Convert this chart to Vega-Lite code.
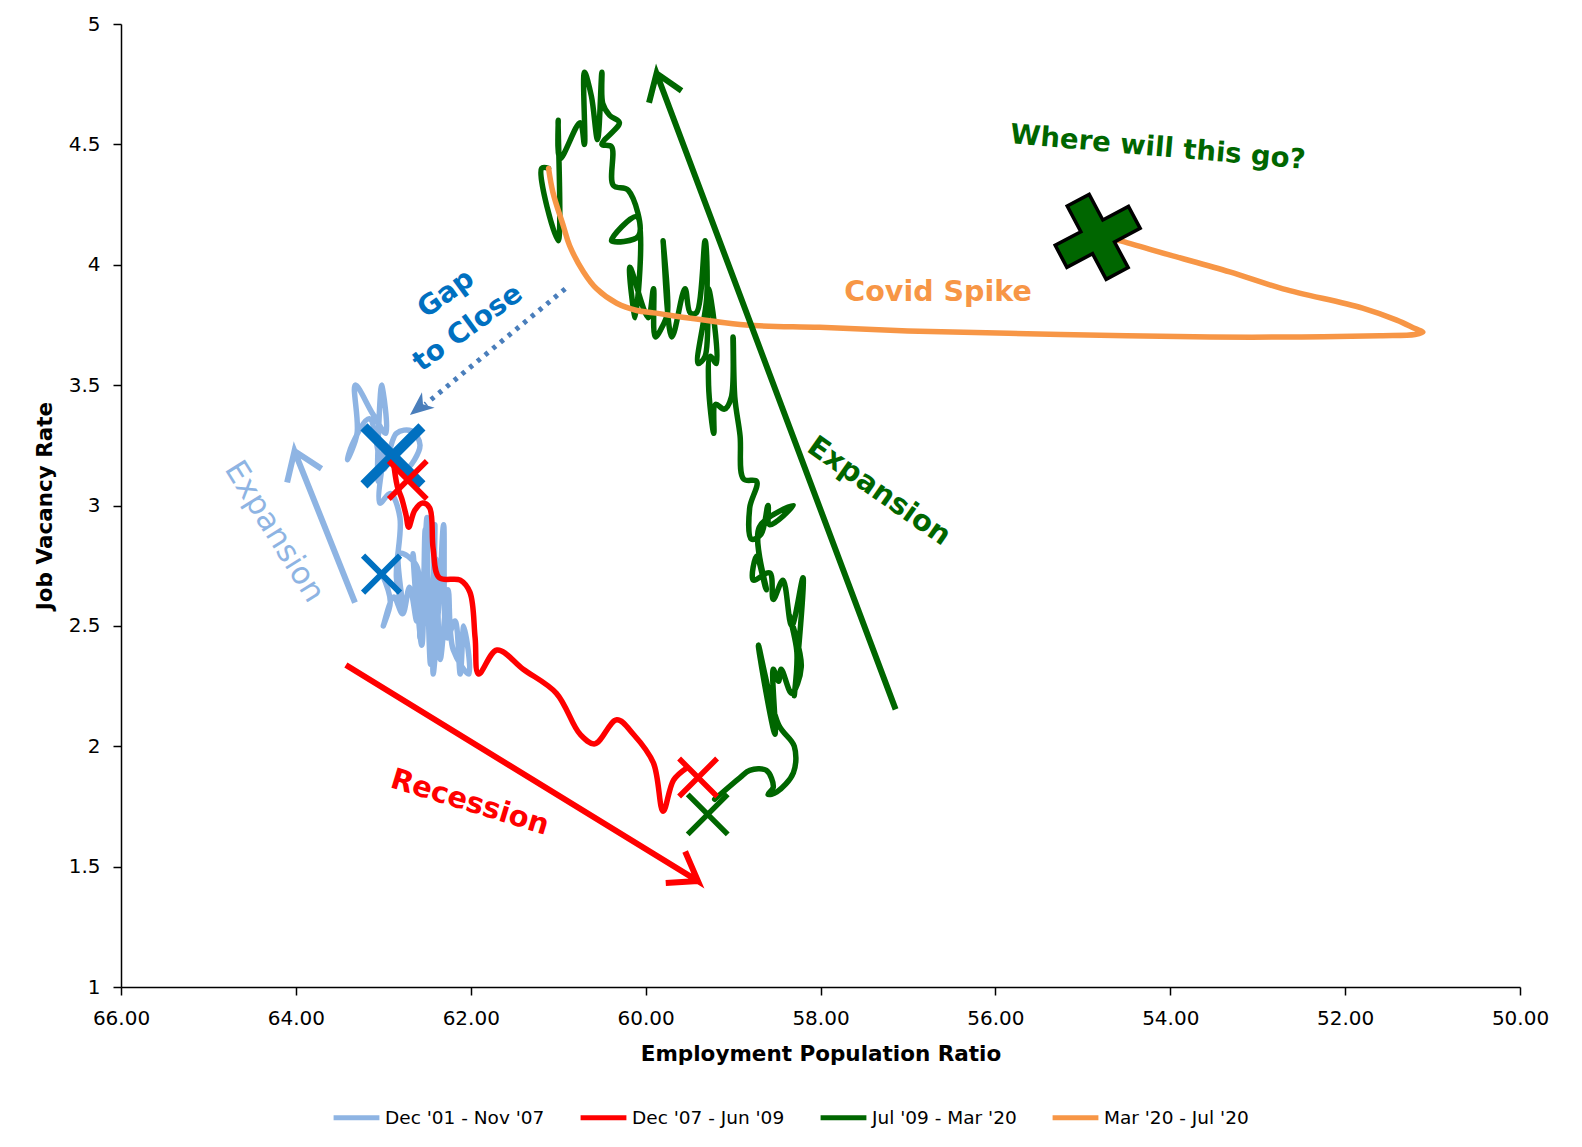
{
  "$schema": "https://vega.github.io/schema/vega-lite/v6.json",
  "width": 1399,
  "height": 963,
  "autosize": {"type": "none"},
  "padding": {"left": 121, "top": 24, "right": 62, "bottom": 160},
  "background": "white",
  "config": {"view": {"stroke": null}},
  "datasets": {
    "series": [
      {"s":"Dec '01 - Nov '07","i":1,"x":63.02,"y":2.72},
      {"s":"Dec '01 - Nov '07","i":2,"x":62.92,"y":2.60},
      {"s":"Dec '01 - Nov '07","i":3,"x":63.00,"y":2.50},
      {"s":"Dec '01 - Nov '07","i":4,"x":62.88,"y":2.62},
      {"s":"Dec '01 - Nov '07","i":5,"x":62.78,"y":2.55},
      {"s":"Dec '01 - Nov '07","i":6,"x":62.70,"y":2.66},
      {"s":"Dec '01 - Nov '07","i":7,"x":62.62,"y":2.52},
      {"s":"Dec '01 - Nov '07","i":8,"x":62.66,"y":2.80},
      {"s":"Dec '01 - Nov '07","i":9,"x":62.56,"y":2.42},
      {"s":"Dec '01 - Nov '07","i":10,"x":62.52,"y":2.90},
      {"s":"Dec '01 - Nov '07","i":11,"x":62.46,"y":2.34},
      {"s":"Dec '01 - Nov '07","i":12,"x":62.41,"y":2.92},
      {"s":"Dec '01 - Nov '07","i":13,"x":62.43,"y":2.30},
      {"s":"Dec '01 - Nov '07","i":14,"x":62.36,"y":2.62},
      {"s":"Dec '01 - Nov '07","i":15,"x":62.31,"y":2.92},
      {"s":"Dec '01 - Nov '07","i":16,"x":62.27,"y":2.45},
      {"s":"Dec '01 - Nov '07","i":17,"x":62.18,"y":2.52},
      {"s":"Dec '01 - Nov '07","i":18,"x":62.12,"y":2.30},
      {"s":"Dec '01 - Nov '07","i":19,"x":62.08,"y":2.50},
      {"s":"Dec '01 - Nov '07","i":20,"x":62.02,"y":2.30},
      {"s":"Dec '01 - Nov '07","i":21,"x":62.20,"y":2.40},
      {"s":"Dec '01 - Nov '07","i":22,"x":62.26,"y":2.65},
      {"s":"Dec '01 - Nov '07","i":23,"x":62.35,"y":2.36},
      {"s":"Dec '01 - Nov '07","i":24,"x":62.40,"y":2.78},
      {"s":"Dec '01 - Nov '07","i":25,"x":62.48,"y":2.50},
      {"s":"Dec '01 - Nov '07","i":26,"x":62.50,"y":2.95},
      {"s":"Dec '01 - Nov '07","i":27,"x":62.58,"y":2.45},
      {"s":"Dec '01 - Nov '07","i":28,"x":62.62,"y":2.75},
      {"s":"Dec '01 - Nov '07","i":29,"x":62.81,"y":2.80},
      {"s":"Dec '01 - Nov '07","i":30,"x":62.78,"y":2.58},
      {"s":"Dec '01 - Nov '07","i":31,"x":62.85,"y":2.70},
      {"s":"Dec '01 - Nov '07","i":32,"x":62.81,"y":2.95},
      {"s":"Dec '01 - Nov '07","i":33,"x":62.92,"y":3.05},
      {"s":"Dec '01 - Nov '07","i":34,"x":63.04,"y":3.01},
      {"s":"Dec '01 - Nov '07","i":35,"x":62.98,"y":3.25},
      {"s":"Dec '01 - Nov '07","i":36,"x":63.06,"y":3.10},
      {"s":"Dec '01 - Nov '07","i":37,"x":63.02,"y":3.50},
      {"s":"Dec '01 - Nov '07","i":38,"x":62.97,"y":3.30},
      {"s":"Dec '01 - Nov '07","i":39,"x":63.12,"y":3.38},
      {"s":"Dec '01 - Nov '07","i":40,"x":63.32,"y":3.50},
      {"s":"Dec '01 - Nov '07","i":41,"x":63.30,"y":3.30},
      {"s":"Dec '01 - Nov '07","i":42,"x":63.41,"y":3.19},
      {"s":"Dec '01 - Nov '07","i":43,"x":63.36,"y":3.25},
      {"s":"Dec '01 - Nov '07","i":44,"x":63.16,"y":3.36},
      {"s":"Dec '01 - Nov '07","i":45,"x":63.00,"y":3.15},
      {"s":"Dec '01 - Nov '07","i":46,"x":62.85,"y":3.30},
      {"s":"Dec '01 - Nov '07","i":47,"x":62.68,"y":3.31},
      {"s":"Dec '01 - Nov '07","i":48,"x":62.58,"y":3.25},
      {"s":"Dec '01 - Nov '07","i":49,"x":62.75,"y":3.15},
      {"s":"Dec '01 - Nov '07","i":50,"x":62.89,"y":3.21},
      {"s":"Dec '07 - Jun '09","i":1,"x":62.89,"y":3.20},
      {"s":"Dec '07 - Jun '09","i":2,"x":62.84,"y":3.08},
      {"s":"Dec '07 - Jun '09","i":3,"x":62.79,"y":3.03},
      {"s":"Dec '07 - Jun '09","i":4,"x":62.74,"y":2.96},
      {"s":"Dec '07 - Jun '09","i":5,"x":62.71,"y":2.91},
      {"s":"Dec '07 - Jun '09","i":6,"x":62.64,"y":2.98},
      {"s":"Dec '07 - Jun '09","i":7,"x":62.55,"y":3.01},
      {"s":"Dec '07 - Jun '09","i":8,"x":62.47,"y":2.99},
      {"s":"Dec '07 - Jun '09","i":9,"x":62.43,"y":2.82},
      {"s":"Dec '07 - Jun '09","i":10,"x":62.36,"y":2.70},
      {"s":"Dec '07 - Jun '09","i":11,"x":62.12,"y":2.69},
      {"s":"Dec '07 - Jun '09","i":12,"x":62.01,"y":2.64},
      {"s":"Dec '07 - Jun '09","i":13,"x":61.95,"y":2.45},
      {"s":"Dec '07 - Jun '09","i":14,"x":61.91,"y":2.30},
      {"s":"Dec '07 - Jun '09","i":15,"x":61.70,"y":2.40},
      {"s":"Dec '07 - Jun '09","i":16,"x":61.40,"y":2.32},
      {"s":"Dec '07 - Jun '09","i":17,"x":61.02,"y":2.22},
      {"s":"Dec '07 - Jun '09","i":18,"x":60.75,"y":2.05},
      {"s":"Dec '07 - Jun '09","i":19,"x":60.58,"y":2.01},
      {"s":"Dec '07 - Jun '09","i":20,"x":60.33,"y":2.11},
      {"s":"Dec '07 - Jun '09","i":21,"x":60.14,"y":2.05},
      {"s":"Dec '07 - Jun '09","i":22,"x":59.91,"y":1.93},
      {"s":"Dec '07 - Jun '09","i":23,"x":59.80,"y":1.73},
      {"s":"Dec '07 - Jun '09","i":24,"x":59.68,"y":1.86},
      {"s":"Dec '07 - Jun '09","i":25,"x":59.53,"y":1.91},
      {"s":"Jul '09 - Mar '20","i":1,"x":59.21,"y":1.78},
      {"s":"Jul '09 - Mar '20","i":2,"x":58.92,"y":1.87},
      {"s":"Jul '09 - Mar '20","i":3,"x":58.81,"y":1.90},
      {"s":"Jul '09 - Mar '20","i":4,"x":58.62,"y":1.90},
      {"s":"Jul '09 - Mar '20","i":5,"x":58.54,"y":1.83},
      {"s":"Jul '09 - Mar '20","i":6,"x":58.60,"y":1.80},
      {"s":"Jul '09 - Mar '20","i":7,"x":58.50,"y":1.81},
      {"s":"Jul '09 - Mar '20","i":8,"x":58.31,"y":1.89},
      {"s":"Jul '09 - Mar '20","i":9,"x":58.30,"y":2.00},
      {"s":"Jul '09 - Mar '20","i":10,"x":58.48,"y":2.09},
      {"s":"Jul '09 - Mar '20","i":11,"x":58.71,"y":2.42},
      {"s":"Jul '09 - Mar '20","i":12,"x":58.52,"y":2.05},
      {"s":"Jul '09 - Mar '20","i":13,"x":58.54,"y":2.32},
      {"s":"Jul '09 - Mar '20","i":14,"x":58.48,"y":2.27},
      {"s":"Jul '09 - Mar '20","i":15,"x":58.45,"y":2.32},
      {"s":"Jul '09 - Mar '20","i":16,"x":58.33,"y":2.22},
      {"s":"Jul '09 - Mar '20","i":17,"x":58.22,"y":2.33},
      {"s":"Jul '09 - Mar '20","i":18,"x":58.36,"y":2.55},
      {"s":"Jul '09 - Mar '20","i":19,"x":58.27,"y":2.39},
      {"s":"Jul '09 - Mar '20","i":20,"x":58.30,"y":2.21},
      {"s":"Jul '09 - Mar '20","i":21,"x":58.20,"y":2.70},
      {"s":"Jul '09 - Mar '20","i":22,"x":58.33,"y":2.50},
      {"s":"Jul '09 - Mar '20","i":23,"x":58.43,"y":2.69},
      {"s":"Jul '09 - Mar '20","i":24,"x":58.54,"y":2.61},
      {"s":"Jul '09 - Mar '20","i":25,"x":58.58,"y":2.72},
      {"s":"Jul '09 - Mar '20","i":26,"x":58.77,"y":2.69},
      {"s":"Jul '09 - Mar '20","i":27,"x":58.73,"y":2.79},
      {"s":"Jul '09 - Mar '20","i":28,"x":58.62,"y":2.65},
      {"s":"Jul '09 - Mar '20","i":29,"x":58.70,"y":2.91},
      {"s":"Jul '09 - Mar '20","i":30,"x":58.31,"y":3.00},
      {"s":"Jul '09 - Mar '20","i":31,"x":58.58,"y":2.92},
      {"s":"Jul '09 - Mar '20","i":32,"x":58.60,"y":3.00},
      {"s":"Jul '09 - Mar '20","i":33,"x":58.68,"y":2.88},
      {"s":"Jul '09 - Mar '20","i":34,"x":58.79,"y":2.86},
      {"s":"Jul '09 - Mar '20","i":35,"x":58.81,"y":2.99},
      {"s":"Jul '09 - Mar '20","i":36,"x":58.73,"y":3.10},
      {"s":"Jul '09 - Mar '20","i":37,"x":58.88,"y":3.11},
      {"s":"Jul '09 - Mar '20","i":38,"x":58.92,"y":3.29},
      {"s":"Jul '09 - Mar '20","i":39,"x":58.98,"y":3.45},
      {"s":"Jul '09 - Mar '20","i":40,"x":59.00,"y":3.70},
      {"s":"Jul '09 - Mar '20","i":41,"x":59.02,"y":3.45},
      {"s":"Jul '09 - Mar '20","i":42,"x":59.10,"y":3.40},
      {"s":"Jul '09 - Mar '20","i":43,"x":59.20,"y":3.42},
      {"s":"Jul '09 - Mar '20","i":44,"x":59.22,"y":3.30},
      {"s":"Jul '09 - Mar '20","i":45,"x":59.28,"y":3.50},
      {"s":"Jul '09 - Mar '20","i":46,"x":59.26,"y":3.62},
      {"s":"Jul '09 - Mar '20","i":47,"x":59.19,"y":3.59},
      {"s":"Jul '09 - Mar '20","i":48,"x":59.28,"y":3.90},
      {"s":"Jul '09 - Mar '20","i":49,"x":59.32,"y":3.62},
      {"s":"Jul '09 - Mar '20","i":50,"x":59.40,"y":3.59},
      {"s":"Jul '09 - Mar '20","i":51,"x":59.30,"y":3.87},
      {"s":"Jul '09 - Mar '20","i":52,"x":59.32,"y":4.10},
      {"s":"Jul '09 - Mar '20","i":53,"x":59.42,"y":3.80},
      {"s":"Jul '09 - Mar '20","i":54,"x":59.49,"y":3.80},
      {"s":"Jul '09 - Mar '20","i":55,"x":59.55,"y":3.90},
      {"s":"Jul '09 - Mar '20","i":56,"x":59.70,"y":3.70},
      {"s":"Jul '09 - Mar '20","i":57,"x":59.80,"y":4.10},
      {"s":"Jul '09 - Mar '20","i":58,"x":59.75,"y":3.80},
      {"s":"Jul '09 - Mar '20","i":59,"x":59.80,"y":3.75},
      {"s":"Jul '09 - Mar '20","i":60,"x":59.89,"y":3.70},
      {"s":"Jul '09 - Mar '20","i":61,"x":59.91,"y":3.90},
      {"s":"Jul '09 - Mar '20","i":62,"x":59.97,"y":3.78},
      {"s":"Jul '09 - Mar '20","i":63,"x":60.18,"y":3.99},
      {"s":"Jul '09 - Mar '20","i":64,"x":60.12,"y":3.78},
      {"s":"Jul '09 - Mar '20","i":65,"x":60.10,"y":4.20},
      {"s":"Jul '09 - Mar '20","i":66,"x":60.39,"y":4.10},
      {"s":"Jul '09 - Mar '20","i":67,"x":60.08,"y":4.12},
      {"s":"Jul '09 - Mar '20","i":68,"x":60.20,"y":4.31},
      {"s":"Jul '09 - Mar '20","i":69,"x":60.37,"y":4.33},
      {"s":"Jul '09 - Mar '20","i":70,"x":60.39,"y":4.49},
      {"s":"Jul '09 - Mar '20","i":71,"x":60.50,"y":4.50},
      {"s":"Jul '09 - Mar '20","i":72,"x":60.30,"y":4.59},
      {"s":"Jul '09 - Mar '20","i":73,"x":60.41,"y":4.62},
      {"s":"Jul '09 - Mar '20","i":74,"x":60.49,"y":4.67},
      {"s":"Jul '09 - Mar '20","i":75,"x":60.50,"y":4.80},
      {"s":"Jul '09 - Mar '20","i":76,"x":60.55,"y":4.52},
      {"s":"Jul '09 - Mar '20","i":77,"x":60.62,"y":4.70},
      {"s":"Jul '09 - Mar '20","i":78,"x":60.70,"y":4.80},
      {"s":"Jul '09 - Mar '20","i":79,"x":60.70,"y":4.50},
      {"s":"Jul '09 - Mar '20","i":80,"x":60.75,"y":4.59},
      {"s":"Jul '09 - Mar '20","i":81,"x":60.98,"y":4.44},
      {"s":"Jul '09 - Mar '20","i":82,"x":61.00,"y":4.60},
      {"s":"Jul '09 - Mar '20","i":83,"x":61.00,"y":4.10},
      {"s":"Jul '09 - Mar '20","i":84,"x":61.19,"y":4.40},
      {"s":"Jul '09 - Mar '20","i":85,"x":61.11,"y":4.40},
      {"s":"Mar '20 - Jul '20","i":1,"x":61.11,"y":4.40},
      {"s":"Mar '20 - Jul '20","i":2,"x":61.06,"y":4.30},
      {"s":"Mar '20 - Jul '20","i":3,"x":60.94,"y":4.16},
      {"s":"Mar '20 - Jul '20","i":4,"x":60.87,"y":4.08},
      {"s":"Mar '20 - Jul '20","i":5,"x":60.71,"y":3.97},
      {"s":"Mar '20 - Jul '20","i":6,"x":60.56,"y":3.90},
      {"s":"Mar '20 - Jul '20","i":7,"x":60.33,"y":3.84},
      {"s":"Mar '20 - Jul '20","i":8,"x":60.10,"y":3.81},
      {"s":"Mar '20 - Jul '20","i":9,"x":59.91,"y":3.80},
      {"s":"Mar '20 - Jul '20","i":10,"x":58.85,"y":3.75},
      {"s":"Mar '20 - Jul '20","i":11,"x":58.01,"y":3.74},
      {"s":"Mar '20 - Jul '20","i":12,"x":57.00,"y":3.725},
      {"s":"Mar '20 - Jul '20","i":13,"x":55.85,"y":3.715},
      {"s":"Mar '20 - Jul '20","i":14,"x":54.50,"y":3.705},
      {"s":"Mar '20 - Jul '20","i":15,"x":53.54,"y":3.70},
      {"s":"Mar '20 - Jul '20","i":16,"x":52.50,"y":3.70},
      {"s":"Mar '20 - Jul '20","i":17,"x":51.60,"y":3.705},
      {"s":"Mar '20 - Jul '20","i":18,"x":51.20,"y":3.71},
      {"s":"Mar '20 - Jul '20","i":19,"x":51.11,"y":3.72},
      {"s":"Mar '20 - Jul '20","i":20,"x":51.20,"y":3.735},
      {"s":"Mar '20 - Jul '20","i":21,"x":51.41,"y":3.77},
      {"s":"Mar '20 - Jul '20","i":22,"x":51.80,"y":3.82},
      {"s":"Mar '20 - Jul '20","i":23,"x":52.71,"y":3.90},
      {"s":"Mar '20 - Jul '20","i":24,"x":53.32,"y":3.97},
      {"s":"Mar '20 - Jul '20","i":25,"x":54.00,"y":4.04},
      {"s":"Mar '20 - Jul '20","i":26,"x":54.58,"y":4.10},
      {"s":"Mar '20 - Jul '20","i":27,"x":54.75,"y":4.115}
    ],
    "arrows": [
      {"a":"expBlue","i":1,"x":63.324,"y":2.597},
      {"a":"expBlue","i":2,"x":64.016,"y":3.226},
      {"a":"expBlue","i":3,"x":64.10,"y":3.096},
      {"a":"expBlue","i":4,"x":64.016,"y":3.226},
      {"a":"expBlue","i":5,"x":63.707,"y":3.153},
      {"a":"expGreen","i":1,"x":57.141,"y":2.153},
      {"a":"expGreen","i":2,"x":59.875,"y":4.795},
      {"a":"expGreen","i":3,"x":59.961,"y":4.673},
      {"a":"expGreen","i":4,"x":59.875,"y":4.795},
      {"a":"expGreen","i":5,"x":59.589,"y":4.723},
      {"a":"recession","i":1,"x":63.428,"y":2.3375},
      {"a":"recession","i":2,"x":59.402,"y":1.440},
      {"a":"recession","i":3,"x":59.548,"y":1.563},
      {"a":"recession","i":4,"x":59.402,"y":1.440},
      {"a":"recession","i":5,"x":59.770,"y":1.432},
      {"a":"gap","i":1,"x":60.92,"y":3.90},
      {"a":"gap","i":2,"x":62.52,"y":3.42}
    ],
    "markers": [
      {"m":"bigX","x":62.89,"y":3.206},
      {"m":"smallX","x":63.02,"y":2.715},
      {"m":"redX","x":62.72,"y":3.106},
      {"m":"redX","x":59.40,"y":1.87},
      {"m":"greenX","x":59.29,"y":1.717},
      {"m":"plus","x":54.83,"y":4.116},
      {"m":"gapHead","x":62.585,"y":3.409}
    ],
    "labels": [
      {"t":"expBlue","x":64.25,"y":2.89,"text":"Expansion"},
      {"t":"expGreen","x":57.33,"y":3.06,"text":"Expansion"},
      {"t":"recession","x":62.01,"y":1.767,"text":"Recession"},
      {"t":"gap","x":62.28,"y":3.878,"text":"Gap"},
      {"t":"gap","x":62.03,"y":3.736,"text":"to Close"},
      {"t":"covid","x":56.656,"y":3.885,"text":"Covid Spike"},
      {"t":"where","x":54.142,"y":4.485,"text":"Where will this go?"}
    ]
  },
  "encoding": {
    "x": {
      "field": "x", "type": "quantitative",
      "scale": {"domain": [50, 66], "reverse": true, "nice": false, "zero": false},
      "axis": {
        "title": "Employment  Population Ratio",
        "values": [50, 52, 54, 56, 58, 60, 62, 64, 66],
        "format": ".2f", "grid": false, "labelFlush": false,
        "domainColor": "#000000", "domainWidth": 1.5, "tickColor": "#000000", "tickWidth": 1.5, "tickSize": 8,
        "labelFont": "DejaVu Sans", "labelFontSize": 20, "labelColor": "#000000", "labelPadding": 13,
        "labelOverlap": false,
        "titleFont": "DejaVu Sans", "titleFontSize": 21.5, "titleFontWeight": "bold", "titleColor": "#000000", "titlePadding": 15
      }
    },
    "y": {
      "field": "y", "type": "quantitative",
      "scale": {"domain": [1, 5], "nice": false, "zero": false},
      "axis": {
        "title": "Job Vacancy Rate",
        "values": [1, 1.5, 2, 2.5, 3, 3.5, 4, 4.5, 5],
        "format": ".2~f", "grid": false, "labelFlush": false,
        "domainColor": "#000000", "domainWidth": 1.5, "tickColor": "#000000", "tickWidth": 1.5, "tickSize": 8,
        "labelFont": "DejaVu Sans", "labelFontSize": 20, "labelColor": "#000000", "labelPadding": 13,
        "titleFont": "DejaVu Sans", "titleFontSize": 21.5, "titleFontWeight": "bold", "titleColor": "#000000", "titlePadding": 12
      }
    }
  },
  "layer": [
    {
      "data": {"name": "series"},
      "mark": {"type": "line", "interpolate": "catmull-rom", "strokeWidth": 5.5, "strokeJoin": "round", "strokeCap": "round"},
      "encoding": {
        "order": {"field": "i", "type": "quantitative"},
        "color": {
          "field": "s", "type": "nominal",
          "scale": {"domain": ["Dec '01 - Nov '07", "Dec '07 - Jun '09", "Jul '09 - Mar '20", "Mar '20 - Jul '20"],
                    "range": ["#8EB4E3", "#FF0000", "#006600", "#F79646"]},
          "legend": {
            "title": null, "orient": "none", "direction": "horizontal", "columns": 4,
            "legendX": 210, "legendY": 1068, "padding": 0,
            "symbolType": "stroke", "symbolSize": 2100, "symbolStrokeWidth": 5,
            "labelFont": "DejaVu Sans", "labelFontSize": 18.5, "labelColor": "#000000", "labelOffset": 3,
            "columnPadding": 25
          }
        }
      }
    },
    {
      "data": {"name": "arrows"},
      "transform": [{"filter": "datum.a === 'expBlue'"}],
      "mark": {"type": "line", "color": "#8EB4E3", "strokeWidth": 6, "strokeJoin": "miter"},
      "encoding": {"order": {"field": "i", "type": "quantitative"}}
    },
    {
      "data": {"name": "arrows"},
      "transform": [{"filter": "datum.a === 'expGreen'"}],
      "mark": {"type": "line", "color": "#006600", "strokeWidth": 6, "strokeJoin": "miter"},
      "encoding": {"order": {"field": "i", "type": "quantitative"}}
    },
    {
      "data": {"name": "arrows"},
      "transform": [{"filter": "datum.a === 'recession'"}],
      "mark": {"type": "line", "color": "#FF0000", "strokeWidth": 6, "strokeJoin": "miter"},
      "encoding": {"order": {"field": "i", "type": "quantitative"}}
    },
    {
      "data": {"name": "arrows"},
      "transform": [{"filter": "datum.a === 'gap'"}],
      "mark": {"type": "line", "color": "#4A7EBB", "strokeWidth": 5, "strokeDash": [4, 6]},
      "encoding": {"order": {"field": "i", "type": "quantitative"}}
    },
    {
      "data": {"name": "markers"},
      "transform": [{"filter": "datum.m === 'bigX'"}],
      "mark": {"type": "point", "shape": "M-1,-1L1,1M-1,1L1,-1", "size": 3364, "stroke": "#0070C0", "strokeWidth": 10, "filled": false, "opacity": 1}
    },
    {
      "data": {"name": "markers"},
      "transform": [{"filter": "datum.m === 'smallX'"}],
      "mark": {"type": "point", "shape": "M-1,-1L1,1M-1,1L1,-1", "size": 1369, "stroke": "#0070C0", "strokeWidth": 6, "filled": false, "opacity": 1}
    },
    {
      "data": {"name": "markers"},
      "transform": [{"filter": "datum.m === 'redX'"}],
      "mark": {"type": "point", "shape": "M-1,-1L1,1M-1,1L1,-1", "size": 1444, "stroke": "#FF0000", "strokeWidth": 5.5, "filled": false, "opacity": 1}
    },
    {
      "data": {"name": "markers"},
      "transform": [{"filter": "datum.m === 'greenX'"}],
      "mark": {"type": "point", "shape": "M-1,-1L1,1M-1,1L1,-1", "size": 1600, "stroke": "#006600", "strokeWidth": 5.5, "filled": false, "opacity": 1}
    },
    {
      "data": {"name": "markers"},
      "transform": [{"filter": "datum.m === 'plus'"}],
      "mark": {"type": "point", "shape": "M-0.3,-1L0.3,-1L0.3,-0.3L1,-0.3L1,0.3L0.3,0.3L0.3,1L-0.3,1L-0.3,0.3L-1,0.3L-1,-0.3L-0.3,-0.3Z", "size": 6889, "angle": -28, "fill": "#006600", "stroke": "#000000", "strokeWidth": 3.5, "filled": true, "opacity": 1, "fillOpacity": 1}
    },
    {
      "data": {"name": "markers"},
      "transform": [{"filter": "datum.m === 'gapHead'"}],
      "mark": {"type": "point", "shape": "M0,-1L0.8,0.9L0,0.35L-0.8,0.9Z", "size": 625, "angle": 230.7, "fill": "#4A7EBB", "filled": true, "opacity": 1, "strokeWidth": 0}
    },
    {
      "data": {"name": "labels"},
      "transform": [{"filter": "datum.t === 'expBlue'"}],
      "mark": {"type": "text", "font": "DejaVu Sans", "fontSize": 31, "color": "#8EB4E3", "angle": 58, "align": "center", "baseline": "middle"},
      "encoding": {"text": {"field": "text"}}
    },
    {
      "data": {"name": "labels"},
      "transform": [{"filter": "datum.t === 'expGreen'"}],
      "mark": {"type": "text", "font": "DejaVu Sans", "fontSize": 29, "fontWeight": "bold", "color": "#006600", "angle": 35, "align": "center", "baseline": "middle"},
      "encoding": {"text": {"field": "text"}}
    },
    {
      "data": {"name": "labels"},
      "transform": [{"filter": "datum.t === 'recession'"}],
      "mark": {"type": "text", "font": "DejaVu Sans", "fontSize": 29, "fontWeight": "bold", "color": "#FF0000", "angle": 17, "align": "center", "baseline": "middle"},
      "encoding": {"text": {"field": "text"}}
    },
    {
      "data": {"name": "labels"},
      "transform": [{"filter": "datum.t === 'gap'"}],
      "mark": {"type": "text", "font": "DejaVu Sans", "fontSize": 28, "fontWeight": "bold", "color": "#0070C0", "angle": -36, "align": "center", "baseline": "middle"},
      "encoding": {"text": {"field": "text"}}
    },
    {
      "data": {"name": "labels"},
      "transform": [{"filter": "datum.t === 'covid'"}],
      "mark": {"type": "text", "font": "DejaVu Sans", "fontSize": 28.5, "fontWeight": "bold", "color": "#F79646", "align": "center", "baseline": "middle"},
      "encoding": {"text": {"field": "text"}}
    },
    {
      "data": {"name": "labels"},
      "transform": [{"filter": "datum.t === 'where'"}],
      "mark": {"type": "text", "font": "DejaVu Sans", "fontSize": 27.5, "fontWeight": "bold", "color": "#006600", "angle": 5, "align": "center", "baseline": "middle"},
      "encoding": {"text": {"field": "text"}}
    }
  ]
}
